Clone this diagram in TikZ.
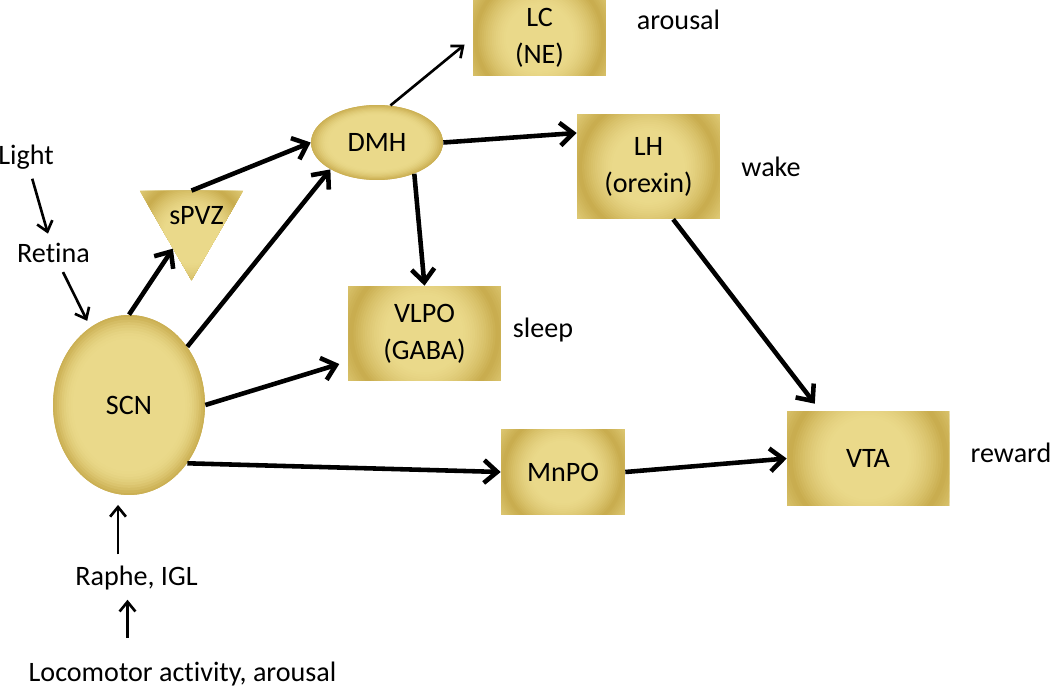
\documentclass[tikz,border=0pt]{standalone}
\usepackage{fontspec}
\setmainfont{Carlito}[Ligatures=NoCommon]
\usetikzlibrary{arrows.meta,shapes.geometric}

% gold tones of the nuclei
\definecolor{goldlight}{RGB}{234,217,138}
\definecolor{golddark}{RGB}{196,166,70}

\tikzset{
  % glow of a box: light centre, dark ring at the sides, lighter corners
  boxglow/.style={path picture={
      \foreach \r in {1.32,1.29,...,0.45} {
        \pgfmathsetmacro\mix{\r<0.97 ? 90*max(0,(\r-0.5)/0.47)^1.5 : max(25,90-(\r-0.97)/0.3*65)}
        \fill[golddark!\mix!goldlight] (path picture bounding box.center)
          circle [radius=\r*#1cm/2];
      }}},
  % glow of an oval: light centre, dark rim
  ovalglow/.style 2 args={path picture={
      \foreach \r in {1.04,1.01,...,0.68} {
        \pgfmathsetmacro\mix{80*min(1,max(0,(\r-0.72)/0.28))^2}
        \fill[golddark!\mix!goldlight] (path picture bounding box.center)
          ellipse [x radius=\r*#1cm/2, y radius=\r*#2cm/2];
      }}},
  box/.style 2 args={rectangle, inner sep=0pt, align=center,
    minimum width=#1cm, minimum height=#2cm, boxglow={#1}},
  oval/.style 2 args={ellipse, inner sep=0pt,
    minimum width=#1cm, minimum height=#2cm, ovalglow={#1}{#2}},
  tri/.style={regular polygon, regular polygon sides=3, shape border rotate=180,
    inner sep=0pt, minimum size=2.38cm, boxglow={2.2}},
  thickarrow/.style={line width=2.6pt, -{Straight Barb[length=7.5pt,width=13pt]}},
  thinarrow/.style={line width=1.5pt, -{Straight Barb[length=5.5pt,width=9pt]}}
}

\begin{document}
\begin{tikzpicture}[x=0.02cm,y=-0.02cm, font=\fontsize{16}{21}\selectfont]

  % page size of the reference
  \useasboundingbox (0,0) rectangle (1050,688);

  % the nuclei
  \node[oval={3.04}{3.6}] (scn) at (129,405) {SCN};
  \node[tri, label={[xshift=0.1cm, yshift=0.11cm]center:sPVZ}] (spvz) at (191.5,220.7) {};
  \node[oval={2.64}{1.5}] (dmh) at (377,142.5) {DMH};
  \node[box={2.66}{1.52}] (lc) at (539.5,38) {LC\\(NE)};
  \node[box={2.86}{2.1}] (lh) at (648.5,166.5) {LH\\(orexin)};
  \node[box={3.06}{1.9}] (vlpo) at (424.5,333.5) {VLPO\\(GABA)};
  \node[box={2.48}{1.72}] (mnpo) at (563,472) {MnPO};
  \node[box={3.24}{1.9}] (vta) at (868,458.5) {VTA};

  % inputs and functions
  \node (light) at (26,157) {Light};
  \node (retina) at (53.5,253) {Retina};
  \node (raphe) at (136.5,578) {Raphe, IGL};
  \node (loco) at (182.5,674) {Locomotor activity, arousal};
  \node (arousal) at (678.5,20) {arousal};
  \node (wake) at (771,167) {wake};
  \node (sleep) at (543,330) {sleep};
  \node (reward) at (1011,453) {reward};

  % thin input arrows
  \draw[thinarrow, shorten <=2pt, shorten >=2pt] (light) -- (retina);
  \draw[thinarrow, shorten <=2pt, shorten >=4pt] (retina) -- (scn);
  \draw[thinarrow, shorten <=3pt, shorten >=6pt] (raphe.north -| scn.263) -- (scn.263);
  \draw[thinarrow, shorten <=10pt, shorten >=2pt]
    ([xshift=-0.18cm]raphe.south |- loco.north) -- ([xshift=-0.18cm]raphe.south);
  \draw[thinarrow, shorten >=6pt] (dmh.70) -- (lc.west);

  % thick projections
  \draw[thickarrow] (scn.north) -- (spvz);
  \draw[thickarrow] (spvz.north) -- (dmh.west);
  \draw[thickarrow] (scn.45) -- (dmh.210);
  \draw[thickarrow] (dmh.east) -- (lh.155);
  \draw[thickarrow] (dmh.-40) -- (vlpo.north);
  \draw[thickarrow, shorten >=5pt] (scn.east) -- (vlpo.200);
  \draw[thickarrow, shorten >=5pt] (lh.-65) -- (vta.135);
  \draw[thickarrow] (scn.-45) -- (mnpo.west);
  \draw[thickarrow] (mnpo.east) -- (vta.west);

\end{tikzpicture}
\end{document}
